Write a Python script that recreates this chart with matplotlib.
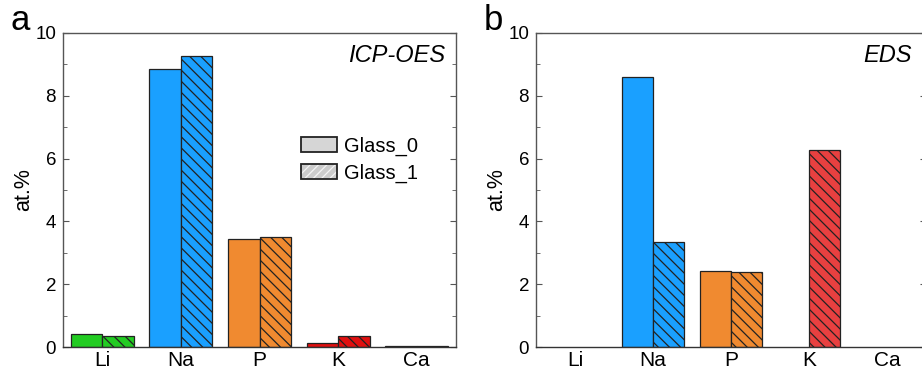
import matplotlib
matplotlib.use("Agg")
import matplotlib.pyplot as plt
import numpy as np
from matplotlib.patches import Patch
from matplotlib.legend_handler import HandlerTuple
from matplotlib.ticker import MultipleLocator

plt.rcParams['font.family'] = ['Liberation Sans', 'DejaVu Sans']
plt.rcParams['hatch.linewidth'] = 0.9

elements = ["Li", "Na", "P", "K", "Ca"]
colors = ["#22cc22", "#1aa0ff", "#f08a30", "#e01010", "#666666"]
colors_b = ["#22cc22", "#1aa0ff", "#f08a30", "#e84040", "#666666"]

icp_glass0 = [0.42, 8.84, 3.44, 0.14, 0.02]
icp_glass1 = [0.36, 9.27, 3.50, 0.36, 0.02]
eds_glass0 = [0.0, 8.60, 2.43, 0.0, 0.0]
eds_glass1 = [0.0, 3.33, 2.39, 6.27, 0.0]

legend_labels = ["Glass_0", "Glass_1"]

W, H = 922, 372
fig = plt.figure(figsize=(W / 100, H / 100), dpi=100)

def px_axes(l, r, t, b):
    return fig.add_axes([l / W, 1 - b / H, (r - l) / W, (b - t) / H])

ax_a = px_axes(63, 456, 33, 347)
ax_b = px_axes(536, 926, 33, 347)

hatch = "\\\\\\"
edge = "#222222"

def draw(ax, g0, g1, cols, label, method, mx):
    x = np.arange(len(elements))
    w = 0.4
    for i in range(len(elements)):
        if g0[i] > 0:
            ax.bar(x[i] - w / 2, g0[i], w, color=cols[i], edgecolor=edge, linewidth=0.9)
        if g1[i] > 0:
            ax.bar(x[i] + w / 2, g1[i], w, color=cols[i], edgecolor=edge, linewidth=0.9,
                   hatch=hatch)
    ax.set_xlim(-0.5, len(elements) - 0.5)
    ax.set_ylim(0, 10)
    ax.set_xticks(x)
    ax.set_xticklabels(elements, fontsize=15)
    ax.tick_params(axis='x', length=0, pad=3)
    ax.yaxis.set_major_locator(MultipleLocator(2))
    ax.yaxis.set_minor_locator(MultipleLocator(1))
    ax.tick_params(axis='y', which='both', direction='in', right=True, labelsize=13.5,
                   color='#555555', pad=5)
    ax.tick_params(axis='y', which='major', length=4)
    ax.tick_params(axis='y', which='minor', length=3)
    for s in ax.spines.values():
        s.set_color('#555555')
        s.set_linewidth(1.0)
    ax.spines['bottom'].set_color('#333333')
    ax.set_ylabel("at.%", fontsize=15.5, labelpad=1)
    ax.text(mx, 0.928, method, transform=ax.transAxes, ha='right', va='center',
            fontsize=17, fontstyle='italic')
    ax.text(-0.084, 1.0096, label, transform=ax.transAxes, ha='right', va='baseline',
            fontsize=25)

draw(ax_a, icp_glass0, icp_glass1, colors, "a", "ICP-OES", 0.972)
draw(ax_b, eds_glass0, eds_glass1, colors_b, "b", "EDS", 0.964)

h0 = Patch(facecolor="#d6d6d6", edgecolor="#222222", linewidth=1.3)
h1 = (Patch(facecolor="#cccccc", edgecolor="#f4f4f4", linewidth=0, hatch="////"),
      Patch(facecolor="none", edgecolor="#222222", linewidth=1.3))
leg = ax_a.legend([h0, h1], legend_labels, loc='center left',
                  bbox_to_anchor=(0.559, 0.597), frameon=False, fontsize=14.5,
                  handlelength=1.8, handleheight=0.78, handletextpad=0.35,
                  labelspacing=0.38,
                  handler_map={tuple: HandlerTuple(ndivide=1, pad=0)})

fig.savefig("out.png", dpi=100)
